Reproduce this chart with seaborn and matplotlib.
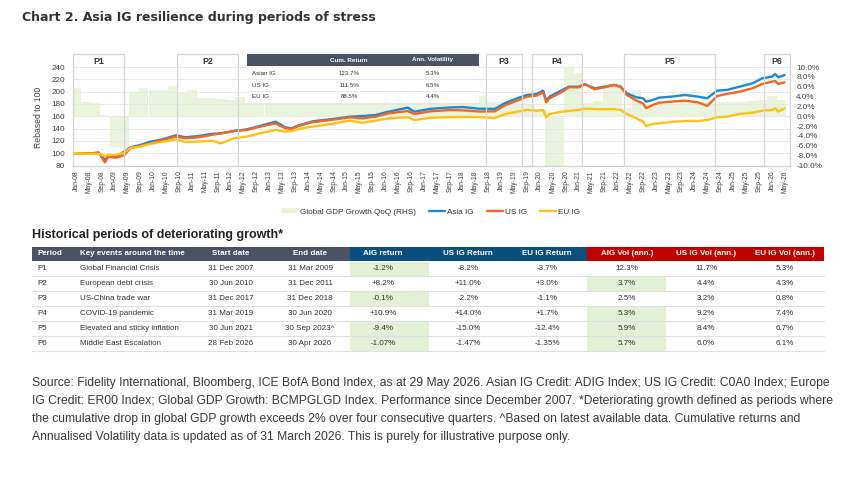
import pandas as pd
import numpy as np
import matplotlib
matplotlib.use('Agg')
import matplotlib.pyplot as plt
import matplotlib.dates as mdates
from matplotlib.patches import Rectangle, Patch
from matplotlib.lines import Line2D
import seaborn as sns

# --- chart data ---
line_dates = ['2007-12', '2008-06', '2008-08', '2008-10', '2008-11', '2009-01', '2009-02', '2009-04',
              '2009-06', '2009-09', '2009-12', '2010-03', '2010-06', '2010-08', '2010-11', '2011-03',
              '2011-07', '2011-10', '2012-02', '2012-06', '2012-10', '2013-03', '2013-06', '2013-08',
              '2013-10', '2014-02', '2014-04', '2014-08', '2015-02', '2015-06', '2015-10', '2016-02',
              '2016-08', '2016-10', '2017-03', '2017-09', '2018-01', '2018-06', '2018-11', '2019-02',
              '2019-06', '2019-09', '2019-12', '2020-02', '2020-03', '2020-04', '2020-08', '2020-10',
              '2021-01', '2021-03', '2021-06', '2021-09', '2021-12', '2022-02', '2022-04', '2022-07',
              '2022-09', '2022-10', '2022-12', '2023-02', '2023-06', '2023-10', '2024-02', '2024-05',
              '2024-08', '2024-11', '2025-03', '2025-07', '2025-10', '2026-01', '2026-02', '2026-03',
              '2026-05']
asia_ig = [100.0, 99.8, 100.9, 88.9, 95.4, 94.3, 96.4, 102.4,
           109.6, 113.3, 118.7, 121.4, 125.8, 129.0, 125.8, 127.9,
           131.2, 132.2, 136.0, 138.7, 144.1, 151.2, 142.0, 140.4,
           145.0, 151.2, 152.8, 155.0, 159.3, 160.4, 162.0, 167.4,
           174.0, 167.4, 172.0, 174.2, 175.0, 172.3, 172.0, 181.0,
           189.2, 194.6, 196.2, 201.6, 185.3, 191.9, 202.7, 208.0,
           208.0, 212.0, 205.4, 208.0, 210.8, 208.0, 197.3, 190.8,
           189.2, 183.7, 186.4, 190.2, 191.9, 194.6, 191.9, 189.2,
           201.6, 202.7, 208.0, 213.4, 221.6, 224.3, 228.7, 223.2,
           227.0]
us_ig = [100.0, 99.6, 100.9, 85.1, 94.3, 92.7, 93.2, 97.0,
         108.5, 111.7, 116.0, 120.3, 124.2, 126.9, 124.2, 125.8,
         129.5, 132.2, 136.0, 137.6, 143.0, 148.4, 140.4, 139.3,
         144.1, 150.1, 151.2, 153.9, 158.2, 156.5, 159.3, 164.7,
         168.5, 163.6, 168.0, 170.0, 169.6, 167.7, 168.0, 177.5,
         185.3, 191.9, 193.5, 199.0, 182.6, 189.2, 199.9, 207.1,
         207.0, 212.0, 203.8, 207.0, 210.8, 208.0, 194.6, 185.3,
         181.0, 173.0, 178.3, 182.0, 183.7, 185.3, 182.6, 176.7,
         192.9, 196.2, 199.9, 205.4, 212.4, 216.2, 217.3, 212.4,
         215.2]
eu_ig = [100.0, 98.9, 99.0, 95.4, 97.0, 97.0, 97.8, 100.9,
         108.5, 110.6, 115.0, 117.6, 120.3, 122.5, 118.1, 118.7,
         120.3, 116.0, 124.2, 126.9, 132.2, 137.6, 135.0, 136.0,
         139.0, 143.0, 144.2, 147.4, 152.8, 149.5, 152.8, 156.5,
         158.3, 153.9, 157.5, 158.5, 158.8, 158.8, 157.0, 163.3,
         167.5, 170.2, 169.0, 170.2, 158.3, 163.7, 167.5, 168.6,
         170.2, 172.3, 171.8, 171.3, 171.8, 170.2, 163.7, 156.7,
         151.2, 144.2, 147.4, 148.6, 150.7, 152.3, 152.3, 153.9,
         158.3, 159.3, 163.7, 165.8, 169.0, 170.2, 173.0, 167.5,
         173.0]

# Global GDP growth QoQ (RHS, %), one value per quarter from 2007Q4 to 2026Q1
gdp_quarters = pd.period_range('2007Q4', '2026Q1', freq='Q')
gdp_growth = [5.7, 2.9, 2.7, 0.2, -6.2, -6.4, 4.9, 5.8, 5.3, 5.4,
              6.1, 4.8, 5.4, 3.7, 3.7, 3.6, 3.4, 3.9, 2.6, 2.6,
              2.6, 2.6, 2.6, 2.6, 2.6, 2.6, 2.6, 2.6, 2.6, 2.6,
              2.6, 2.6, 2.6, 2.6, 2.6, 2.6, 2.6, 2.6, 2.6, 2.6,
              2.6, 2.6, 4.1, 2.9, 2.8, 2.7, 2.6, 2.4, 1.0, -12.0,
              -12.0, 10.5, 8.7, 2.7, 3.1, 6.7, 6.6, 1.7, 5.4, 2.5,
              2.4, 2.4, 2.5, 2.6, 2.6, 2.8, 2.9, 2.8, 2.8, 2.9,
              3.0, 3.3, 4.2, 3.4]

period_names = ['P1', 'P2', 'P3', 'P4', 'P5', 'P6']
box_start = ['2007-12-04', '2010-08-10', '2018-08-12', '2019-10-21', '2022-03-06', '2025-10-18']
box_end = ['2009-03-28', '2012-03-15', '2019-07-12', '2021-02-01', '2024-07-10', '2026-06-20']

inset_names = ['Asian IG', 'US IG', 'EU IG']
inset_cum = ['123.7%', '111.5%', '88.5%']
inset_vol = ['5.3%', '6.5%', '4.4%']

tick_dates = pd.date_range('2008-01-01', '2026-05-01', freq='4MS')

# --- table data ---
table_cols = ['Period', 'Key events around the time', 'Start date', 'End date', 'AIG return',
              'US IG Return', 'EU IG Return', 'AIG Vol (ann.)', 'US IG Vol (ann.)', 'EU IG Vol (ann.)']
t_period = ['P1', 'P2', 'P3', 'P4', 'P5', 'P6']
t_events = ['Global Financial Crisis', 'European debt crisis', 'US-China trade war',
            'COVID-19 pandemic', 'Elevated and sticky inflation', 'Middle East Escalation']
t_start = ['31 Dec 2007', '30 Jun 2010', '31 Dec 2017', '31 Mar 2019', '30 Jun 2021', '28 Feb 2026']
t_end = ['31 Mar 2009', '31 Dec 2011', '31 Dec 2018', '30 Jun 2020', '30 Sep 2023^', '30 Apr 2026']
aig_return = ['-1.2%', '+8.2%', '-0.1%', '+10.9%', '-9.4%', '-1.07%']
us_return = ['-8.2%', '+11.0%', '-2.2%', '+14.0%', '-15.0%', '-1.47%']
eu_return = ['-3.7%', '+3.0%', '-1.1%', '+1.7%', '-12.4%', '-1.35%']
aig_vol = ['12.3%', '3.7%', '2.5%', '5.3%', '5.9%', '5.7%']
us_vol = ['11.7%', '4.4%', '3.2%', '9.2%', '8.4%', '6.0%']
eu_vol = ['5.3%', '4.3%', '0.8%', '7.4%', '6.7%', '6.1%']
aig_return_best = [True, False, True, False, True, True]
aig_vol_best = [False, True, False, True, True, True]

footer_lines = [
    'Source: Fidelity International, Bloomberg, ICE BofA Bond Index, as at 29 May 2026. Asian IG Credit: ADIG Index; US IG Credit: C0A0 Index; Europe',
    'IG Credit: ER00 Index; Global GDP Growth: BCMPGLGD Index. Performance since December 2007. *Deteriorating growth defined as periods where',
    'the cumulative drop in global GDP growth exceeds 2% over four consecutive quarters. ^Based on latest available data. Cumulative returns and',
    'Annualised Volatility data is updated as of 31 March 2026. This is purely for illustrative purpose only.',
]

BLUE = '#1a8bd3'
ORANGE = '#f26522'
YELLOW = '#ffc20e'
GDP_GREEN = '#eaf4dd'
HEAD_GREY = '#4b5263'
HEAD_BLUE = '#0d4f7c'
HEAD_RED = '#c00000'
CELL_GREEN = '#e3f0d6'
TXT = '#333333'

sns.set_theme(style='white')
plt.rcParams['font.family'] = ['Liberation Sans', 'DejaVu Sans']

fig = plt.figure(figsize=(8.58, 4.8), dpi=100)
fig.patch.set_facecolor('white')

# --- 상단 차트 ---
ax = fig.add_axes([73 / 858, 1 - 165.5 / 480, (790 - 73) / 858, (165.5 - 67) / 480])
ax2 = ax.twinx()

gdp_x = mdates.date2num(gdp_quarters.end_time.to_pydatetime())
ax2.bar(gdp_x, gdp_growth, width=91.3, color=GDP_GREEN, linewidth=0, align='center')
ax2.set_ylim(-10, 10)
ax2.set_yticks(np.arange(-10, 11, 2))
ax2.set_yticklabels([f'{v:.1f}%' for v in np.arange(-10, 11, 2)])
ax2.tick_params(axis='y', length=0, labelsize=5.9, pad=4.5, labelcolor='#404040')
ax2.grid(False)

dates = pd.to_datetime(line_dates)
sns.lineplot(x=dates, y=asia_ig, ax=ax, color=BLUE, linewidth=1.7)
sns.lineplot(x=dates, y=us_ig, ax=ax, color=ORANGE, linewidth=1.7)
sns.lineplot(x=dates, y=eu_ig, ax=ax, color=YELLOW, linewidth=1.7)

ax.set_zorder(ax2.get_zorder() + 1)
ax.patch.set_visible(False)
ax.set_ylim(80, 240)
ax.set_yticks(range(80, 241, 20))
ax.set_xlim(pd.Timestamp('2007-12-04'), pd.Timestamp('2026-06-21'))
ax.set_xticks(tick_dates)
ax.set_xticklabels([d.strftime('%b-%y') for d in tick_dates], rotation=90)
ax.tick_params(axis='x', length=2, width=0.6, color='#c8c8c8', pad=1.5, labelsize=4.9, labelcolor='#404040')
ax.tick_params(axis='y', length=0, labelsize=5.9, pad=5.5, labelcolor='#404040')
ax.yaxis.grid(True, color='#e6e6e6', linewidth=0.6)
ax.xaxis.grid(False)
ax.set_xlabel('')
ax.set_ylabel('Rebased to 100', fontsize=6.2, color='#404040')
ax.yaxis.set_label_coords(-0.042, 0.49)

for a in (ax, ax2):
    for s in a.spines.values():
        s.set_visible(False)
ax.spines['bottom'].set_visible(True)
ax.spines['bottom'].set_color('#c8c8c8')
ax.spines['bottom'].set_linewidth(0.8)

for name, s, e in zip(period_names, box_start, box_end):
    x0 = mdates.date2num(pd.Timestamp(s))
    x1 = mdates.date2num(pd.Timestamp(e))
    ax.add_patch(Rectangle((x0, 80), x1 - x0, 180.5, fill=False, edgecolor='#d6d6d6',
                           linewidth=0.9, clip_on=False, zorder=3))
    ax.text((x0 + x1) / 2, 248.5, name, ha='center', va='center', fontsize=6.3,
            fontweight='bold', color=TXT)

handles = [Patch(facecolor=GDP_GREEN, edgecolor='none'),
           Line2D([], [], color=BLUE, lw=1.7),
           Line2D([], [], color=ORANGE, lw=1.7),
           Line2D([], [], color=YELLOW, lw=1.7)]
labels = ['Global GDP Growth QoQ (RHS)', 'Asia IG', 'US IG', 'EU IG']
fig.legend(handles, labels, loc='center', bbox_to_anchor=(431 / 858, 1 - 212 / 480), ncol=4,
           frameon=False, prop={'size': 5.9}, handlelength=2.0, handleheight=0.5,
           columnspacing=1.6, handletextpad=0.2, labelcolor='#333333')

# --- overlay (pixel coordinates) for titles and tables ---
ov = fig.add_axes([0, 0, 1, 1])
ov.set_zorder(10)
ov.set_xlim(0, 858)
ov.set_ylim(480, 0)
ov.axis('off')

ov.text(22, 18, 'Chart 2. Asia IG resilience during periods of stress', fontsize=9.0,
        fontweight='bold', family='DejaVu Sans', color=TXT, va='center', ha='left')

# inset table
ov.add_patch(Rectangle((247, 66), 232, 37.5, facecolor='white', edgecolor='none'))
ov.add_patch(Rectangle((247, 54), 232, 11.8, facecolor=HEAD_GREY, edgecolor='none'))
ov.text(349, 60, 'Cum. Return', fontsize=4.5, fontweight='bold', color='white', ha='center', va='center')
ov.text(433, 60, 'Ann. Volatility', fontsize=4.5, fontweight='bold', color='white', ha='center', va='center')
for i, (n, c, v) in enumerate(zip(inset_names, inset_cum, inset_vol)):
    yc = 73.3 + 11.8 * i
    ov.text(252, yc, n, fontsize=4.4, color=TXT, ha='left', va='center')
    ov.text(349, yc, c, fontsize=4.4, color=TXT, ha='center', va='center')
    ov.text(433, yc, v, fontsize=4.4, color=TXT, ha='center', va='center')
    ov.plot([247, 479], [yc + 6.1, yc + 6.1], color='#e2e2e2', lw=0.6)

# main table
ov.text(32, 235, 'Historical periods of deteriorating growth*', fontsize=9, fontweight='bold',
        color='#222222', ha='left', va='center')
head_top, head_h = 246.7, 14.3
ov.add_patch(Rectangle((32, head_top), 318, head_h, facecolor=HEAD_GREY, edgecolor='none'))
ov.add_patch(Rectangle((350, head_top), 237, head_h, facecolor=HEAD_BLUE, edgecolor='none'))
ov.add_patch(Rectangle((587, head_top), 237.3, head_h, facecolor=HEAD_RED, edgecolor='none'))

col_x = [37, 80, 231, 310, 383, 468, 547, 627, 706, 785]
col_ha = ['left', 'left'] + ['center'] * 8
for cx, ha, name in zip(col_x, col_ha, table_cols):
    ov.text(cx, head_top + head_h / 2, name, fontsize=5.8, fontweight='bold', color='white',
            ha=ha, va='center')

row_h = 15
columns = [t_period, t_events, t_start, t_end, aig_return, us_return, eu_return, aig_vol, us_vol, eu_vol]
for i in range(len(t_period)):
    top = head_top + head_h + row_h * i
    if aig_return_best[i]:
        ov.add_patch(Rectangle((350, top + 0.5), 79, row_h - 1, facecolor=CELL_GREEN, edgecolor='none'))
    if aig_vol_best[i]:
        ov.add_patch(Rectangle((587, top + 0.5), 79, row_h - 1, facecolor=CELL_GREEN, edgecolor='none'))
    for cx, ha, col in zip(col_x, col_ha, columns):
        ov.text(cx, top + row_h / 2 + 0.3, col[i], fontsize=5.8, color=TXT, ha=ha, va='center')
    ov.plot([32, 824], [top + row_h, top + row_h], color='#e0e0e0', lw=0.8)

# footer
for i, line in enumerate(footer_lines):
    ov.text(32, 383.3 + 17.8 * i, line, fontsize=8.75, color='#3a3a3a', ha='left', va='center')

fig.savefig('out.png', dpi=100, facecolor='white')
